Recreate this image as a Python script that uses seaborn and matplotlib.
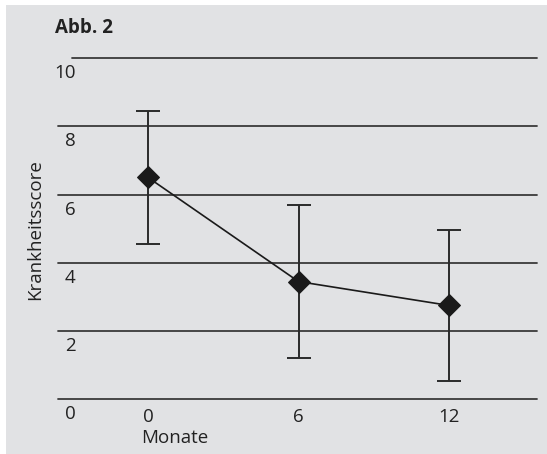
import matplotlib
matplotlib.use("Agg")
import matplotlib.pyplot as plt
from matplotlib.patches import Rectangle
from matplotlib.transforms import offset_copy
import seaborn as sns
import pandas as pd

# Disease score over follow-up (mean and spread)
months = [0, 6, 12]
score_mean = [6.5, 3.45, 2.75]
score_err = [1.95, 2.25, 2.2]
y_ticks = [0, 2, 4, 6, 8, 10]
x_ticks = [0, 6, 12]

sns.set_theme(style="white")
plt.rcParams["font.family"] = ["Open Sans", "DejaVu Sans"]

W, H = 547, 454
fig = plt.figure(figsize=(W / 100, H / 100), dpi=100)
fig.patch.set_facecolor("white")

# grey panel behind the chart
bg = "#e1e2e4"
fig.patches.append(Rectangle((6 / W, 0), 1 - 6 / W, 1 - 5 / H,
                             transform=fig.transFigure, facecolor=bg,
                             edgecolor="none", zorder=-10))

ax = fig.add_axes([58 / W, (H - 399.3) / H, (537 - 58) / W, (399.3 - 58) / H])
ax.set_facecolor("none")
ax.set_xlim(-3.59, 15.51)
ax.set_ylim(0, 10)
for s in ax.spines.values():
    s.set_visible(False)

# horizontal reference lines with their labels just below
grid_col = "#3a3a3a"
for yv in y_ticks:
    xmin = (72 - 58) / (537 - 58) if yv == 10 else 0
    ax.axhline(yv, xmin=xmin, xmax=1, color=grid_col, lw=1.3, clip_on=False, zorder=1)
    tr = offset_copy(ax.get_yaxis_transform(), fig=fig, x=0, y=-15, units="dots")
    ax.text(0.037, yv, str(yv), transform=tr, ha="right", va="center",
            fontsize=13.5, color="#222222")

df = pd.DataFrame({"Monate": months, "Score": score_mean})

ax.errorbar(months, score_mean, yerr=score_err, fmt="none", ecolor="#2a2a2a",
            elinewidth=1.4, capsize=8.3, capthick=1.4, zorder=2)
sns.lineplot(data=df, x="Monate", y="Score", ax=ax, color="#1a1a1a", lw=1.2,
             marker="D", markersize=11, markerfacecolor="#1a1a1a",
             markeredgecolor="#1a1a1a", zorder=3)

ax.set_xticks(x_ticks)
ax.set_xticklabels([str(v) for v in x_ticks], fontsize=13.5, color="#222222")
ax.tick_params(axis="x", length=0, pad=6)
ax.set_yticks([])
ax.set_xlabel("")
ax.set_ylabel("")

fig.text(141 / W, 1 - 438 / H, "Monate", ha="left", va="center",
         fontsize=13.5, color="#222222")
fig.text(35 / W, 1 - 230 / H, "Krankheitsscore", ha="center", va="center",
         rotation=90, fontsize=13.5, color="#222222")
fig.text(55 / W, 1 - 28 / H, "Abb. 2", ha="left", va="center",
         fontsize=13.5, fontweight="bold", color="#222222")

fig.savefig("out.png", dpi=100)
